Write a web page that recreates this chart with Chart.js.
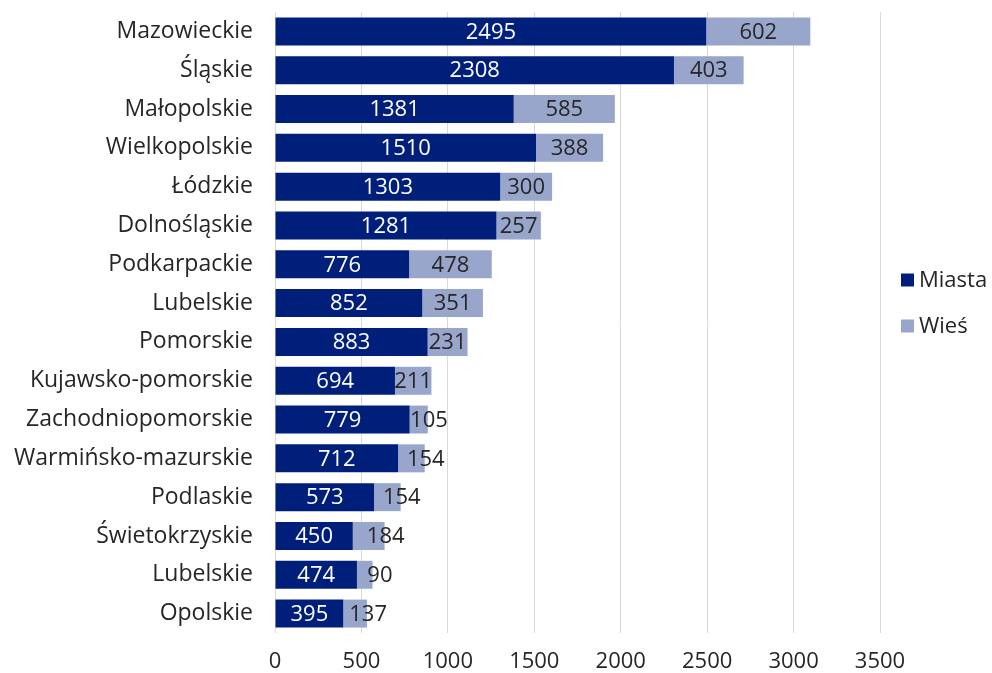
<!DOCTYPE html>
<html><head><meta charset="utf-8">
<script src="https://cdn.jsdelivr.net/npm/chart.js@4"></script>
<style>html,body{margin:0;padding:0;background:#fff}#w{width:992px;height:673px}</style>
</head><body><div id="w"><canvas id="c"></canvas></div>
<script>
const categories = ["Mazowieckie","Śląskie","Małopolskie","Wielkopolskie","Łódzkie","Dolnośląskie","Podkarpackie","Lubelskie","Pomorskie","Kujawsko-pomorskie","Zachodniopomorskie","Warmińsko-mazurskie","Podlaskie","Świetokrzyskie","Lubelskie","Opolskie"];
const miasta = [2495,2308,1381,1510,1303,1281,776,852,883,694,779,712,573,450,474,395];
const wies = [602,403,585,388,300,257,478,351,231,211,105,154,154,184,90,137];
const xTicks = [0,500,1000,1500,2000,2500,3000,3500];

const FONT = "'Open Sans', sans-serif";
const FS = 22;
const labelPlugin = {
  id:'vals',
  afterDatasetsDraw(chart){
    const ctx = chart.ctx;
    ctx.save();
    ctx.font = FS + "px " + FONT;
    ctx.textAlign='center'; ctx.textBaseline='middle';
    chart.data.datasets.forEach((ds,di)=>{
      const meta = chart.getDatasetMeta(di);
      meta.data.forEach((bar,i)=>{
        const txt = String(ds.data[i]);
        const w = ctx.measureText(txt).width;
        const seg = Math.abs(bar.x - bar.base);
        let x = (bar.x + bar.base)/2;
        if (di===1 && w > seg + 4) x = bar.x + 20 - w/2;
        ctx.fillStyle = di===0 ? '#ffffff' : '#262626';
        ctx.fillText(txt, x, bar.y+1);
      });
    });
    ctx.restore();
  }
};
const legendPlugin = {
  id:'leg',
  afterDraw(chart){
    const ctx = chart.ctx;
    ctx.save();
    ctx.font = FS + "px " + FONT;
    ctx.textAlign='left'; ctx.textBaseline='middle';
    const ys=[280,326];
    chart.data.datasets.forEach((ds,di)=>{
      ctx.fillStyle = ds.backgroundColor;
      ctx.fillRect(901, ys[di]-6.5, 13, 13);
      ctx.fillStyle = '#262626';
      ctx.fillText(ds.label, 919, ys[di]+1);
    });
    ctx.restore();
  }
};

new Chart(document.getElementById('c'),{
  type:'bar',
  data:{labels:categories,datasets:[
    {label:'Miasta',data:miasta,backgroundColor:'#001f7a'},
    {label:'Wieś',data:wies,backgroundColor:'#98a6cc'}
  ]},
  options:{
    indexAxis:'y',responsive:true,maintainAspectRatio:false,animation:false,
    categoryPercentage:1,barPercentage:0.72,
    layout:{padding:{top:12,right:112,left:0,bottom:0}},
    plugins:{legend:{display:false},tooltip:{enabled:false}},
    scales:{
      x:{stacked:true,min:0,max:3500,
        afterBuildTicks(s){s.ticks=xTicks.map(v=>({value:v}));},
        grid:{color:'#d9d9d9',drawTicks:false},border:{display:false},
        ticks:{font:{size:FS,family:FONT},color:'#262626',padding:16,callback:v=>String(v)},
        afterFit(s){s.height=40;s.paddingLeft=0;s.paddingRight=0;}
      },
      y:{stacked:true,grid:{display:false,drawTicks:false},border:{display:false},
        ticks:{font:{size:23,family:FONT},color:'#262626',padding:22},
        afterFit(s){s.width=275;s.paddingTop=0;s.paddingBottom=0;}
      }
    }
  },
  plugins:[labelPlugin,legendPlugin]
});
</script></body></html>
